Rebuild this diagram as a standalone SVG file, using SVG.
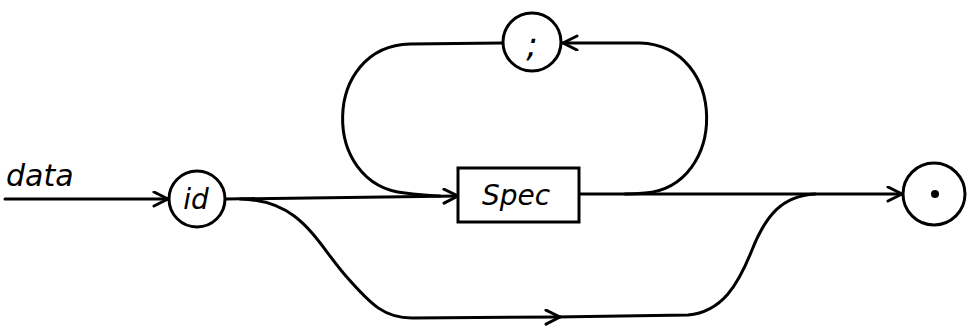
<svg xmlns="http://www.w3.org/2000/svg" width="974" height="331" viewBox="0 0 974 331">
<style>
.ln{fill:none;stroke:#000;stroke-width:3;stroke-linecap:round;stroke-linejoin:round}
.nd{fill:#fff;stroke:#000;stroke-width:3}
.tx{font-family:"DejaVu Sans","Liberation Sans",sans-serif;font-style:oblique;fill:#000}
</style>
<defs>
<marker id="ah" markerWidth="20" markerHeight="20" refX="17" refY="8" orient="auto" markerUnits="userSpaceOnUse">
<path d="M3 1 L17 8 L3 15" fill="none" stroke="#000" stroke-width="3" stroke-linecap="round" stroke-linejoin="round"/>
</marker>
</defs>
<g id="connectors">
<path class="ln" d="M5 199 L168 199" marker-end="url(#ah)"/>
<path class="ln" d="M226 199 L458 196" marker-end="url(#ah)"/>
<path class="ln" d="M579 194 L902 194" marker-end="url(#ah)"/>
<path class="ln" d="M502 43 L410 44 C322 46 320 185 405 193 Q420 195 440 196"/>
<path class="ln" d="M625 194 Q635 194 645 193 C728 186 728 46 640 43 L563 43" marker-end="url(#ah)"/>
<path class="ln" d="M240 199 C300 200 315 240 345 275 C372 306 385 318 412 318 L560 317" marker-end="url(#ah)"/>
<path class="ln" d="M555 317 L688 315 C722 312 738 285 752 250 C766 215 782 196 815 194"/>
</g>
<text class="tx" x="6" y="186" font-size="30">data</text>
<g id="id"><circle class="nd" cx="197" cy="199" r="28"/><text class="tx" x="196" y="209" font-size="28" text-anchor="middle">id</text></g>
<g id="spec"><rect class="nd" x="458" y="168" width="121" height="54"/><text class="tx" x="516" y="205" font-size="28" text-anchor="middle">Spec</text></g>
<g id="semi"><circle class="nd" cx="532" cy="42" r="29"/><text class="tx" x="532" y="56" font-size="34" text-anchor="middle">;</text></g>
<g id="dot"><circle class="nd" cx="934" cy="194" r="31"/><circle cx="935" cy="194" r="4" fill="#000"/></g>
</svg>
